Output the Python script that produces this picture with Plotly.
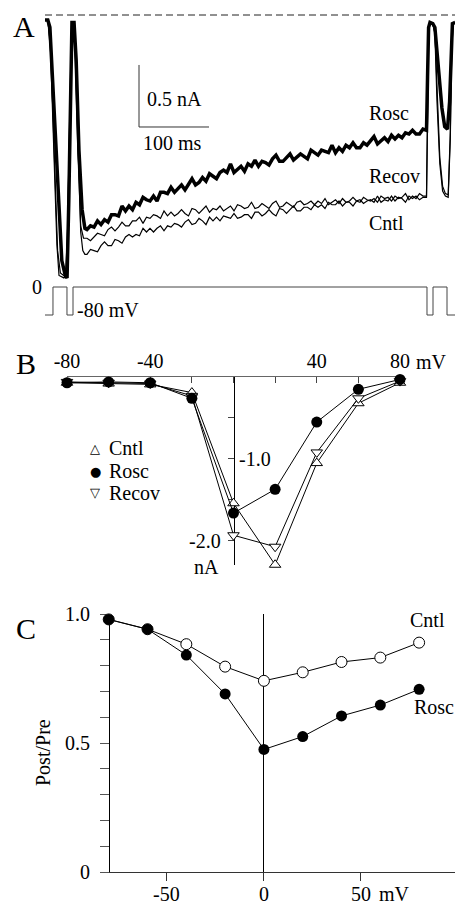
import plotly.graph_objects as go

W, H = 455, 907
FONT = "Liberation Serif"

# ---------------- Panel A data (time in ms, current in nA) ----------------
T_SWEEP = list(range(60, 541, 5))
ROSC_SWEEP = [-1.73, -1.70, -1.71, -1.66, -1.69, -1.65, -1.67, -1.61, -1.61, -1.62,
              -1.54, -1.58, -1.54, -1.57, -1.51, -1.53, -1.47, -1.49, -1.50, -1.46,
              -1.50, -1.43, -1.43, -1.44, -1.39, -1.43, -1.40, -1.37, -1.41, -1.36,
              -1.32, -1.37, -1.35, -1.31, -1.34, -1.28, -1.30, -1.32, -1.27, -1.25,
              -1.27, -1.20, -1.27, -1.24, -1.22, -1.26, -1.20, -1.22, -1.17, -1.22,
              -1.18, -1.19, -1.21, -1.16, -1.13, -1.18, -1.18, -1.15, -1.12, -1.17,
              -1.14, -1.12, -1.14, -1.16, -1.09, -1.11, -1.13, -1.09, -1.10, -1.11,
              -1.05, -1.11, -1.07, -1.10, -1.05, -1.07, -1.03, -1.07, -1.07, -1.03,
              -1.05, -1.02, -0.98, -1.04, -1.01, -0.99, -1.02, -0.97, -1.00, -0.97,
              -0.99, -0.95, -0.96, -0.93, -0.96, -0.96, -0.92]
RECOV_SWEEP = [-1.80, -1.82, -1.79, -1.76, -1.77, -1.78, -1.73, -1.71, -1.74, -1.71,
               -1.67, -1.70, -1.70, -1.66, -1.66, -1.63, -1.68, -1.63, -1.64, -1.61,
               -1.62, -1.64, -1.58, -1.62, -1.59, -1.62, -1.60, -1.57, -1.60, -1.62,
               -1.56, -1.57, -1.60, -1.57, -1.54, -1.59, -1.56, -1.57, -1.54, -1.58,
               -1.56, -1.54, -1.58, -1.53, -1.54, -1.56, -1.55, -1.51, -1.56, -1.55,
               -1.52, -1.54, -1.56, -1.52, -1.50, -1.55, -1.54, -1.51, -1.53, -1.55,
               -1.51, -1.50, -1.53, -1.52, -1.50, -1.53, -1.50, -1.52, -1.48, -1.53,
               -1.51, -1.49, -1.52, -1.48, -1.51, -1.50, -1.47, -1.50, -1.51, -1.47,
               -1.49, -1.50, -1.48, -1.51, -1.46, -1.48, -1.47, -1.50, -1.46, -1.48,
               -1.47, -1.44, -1.49, -1.46, -1.48, -1.44, -1.46]
CNTL_SWEEP = [-1.93, -1.89, -1.90, -1.91, -1.86, -1.83, -1.86, -1.86, -1.81, -1.82,
              -1.84, -1.79, -1.77, -1.79, -1.77, -1.78, -1.72, -1.75, -1.72, -1.75,
              -1.72, -1.70, -1.74, -1.70, -1.71, -1.68, -1.69, -1.71, -1.67, -1.65,
              -1.69, -1.68, -1.64, -1.66, -1.69, -1.63, -1.66, -1.63, -1.66, -1.62,
              -1.63, -1.64, -1.60, -1.64, -1.63, -1.61, -1.61, -1.64, -1.59, -1.59,
              -1.62, -1.60, -1.57, -1.60, -1.62, -1.56, -1.57, -1.60, -1.57, -1.54,
              -1.58, -1.58, -1.55, -1.55, -1.57, -1.53, -1.55, -1.53, -1.56, -1.51,
              -1.53, -1.53, -1.50, -1.54, -1.51, -1.51, -1.54, -1.50, -1.49, -1.52,
              -1.50, -1.49, -1.51, -1.46, -1.51, -1.49, -1.50, -1.46, -1.50, -1.47,
              -1.48, -1.51, -1.46, -1.48, -1.46, -1.49, -1.47]

ROSC_START_T = [0, 4, 7, 13, 19, 24, 29, 31.5, 34, 37, 38.5, 41.5, 44.5, 48.5, 53, 57]
ROSC_START_I = [-0.04, -0.04, -0.10, -0.77, -1.55, -1.98, -2.10, -2.12, -1.50, -0.36,
                -0.06, -0.06, -0.36, -1.09, -1.57, -1.72]
ROSC_END_T = [545, 546.5, 548, 550, 554, 557, 562, 567, 571, 575, 578, 580, 582, 586]
ROSC_END_I = [-0.93, -0.50, -0.10, -0.06, -0.07, -0.10, -0.45, -0.75, -0.90, -0.92,
              -0.70, -0.25, -0.07, -0.06]

CNTL_START_T = [0, 4, 8, 13, 17, 20, 27, 31, 33, 36, 38, 40, 43, 47, 51, 54, 57]
CNTL_START_I = [-0.04, -0.04, -0.30, -1.20, -1.85, -2.10, -2.12, -2.10, -1.60, -0.60,
                -0.08, -0.05, -0.25, -1.00, -1.75, -1.90, -1.93]
CNTL_END_T = [545, 546.5, 548, 550, 554, 557, 560, 564, 568, 572, 576, 579, 581, 583, 586]
CNTL_END_I = [-1.47, -0.80, -0.12, -0.06, -0.07, -0.15, -0.70, -1.20, -1.42, -1.46,
              -1.47, -1.00, -0.30, -0.07, -0.06]

RECOV_START_T = [0, 4, 8, 13, 18, 22, 29, 32, 35, 38, 40, 43, 47, 51, 55]
RECOV_START_I = [-0.04, -0.04, -0.25, -1.10, -1.90, -2.08, -2.11, -1.80, -0.90, -0.10,
                 -0.05, -0.30, -1.10, -1.70, -1.80]
RECOV_END_T = [545, 546.5, 548, 550, 554, 557, 560, 564, 568, 572, 576, 579, 581, 583, 586]
RECOV_END_I = [-1.46, -0.85, -0.12, -0.06, -0.07, -0.14, -0.65, -1.15, -1.38, -1.44,
               -1.45, -0.95, -0.28, -0.07, -0.06]

PROTO_T = [0, 11.4, 31.4, 40, 545.7, 554.3, 574.3, 586]
PROTO_V = [-80, 0, -80, 0, -80, 0, -80, -80]

SCALE_T0, SCALE_I0 = 134.3, -0.903
SCALE_T_LEN, SCALE_I_LEN = 100, 0.5

# ---------------- Panel B data (mV, nA) ----------------
V_B = [-80, -60, -40, -20, 0, 20, 40, 60, 80]
CNTL_B = [-0.07, -0.08, -0.09, -0.19, -1.54, -2.29, -1.05, -0.32, -0.07]
ROSC_B = [-0.07, -0.06, -0.07, -0.26, -1.66, -1.37, -0.55, -0.15, -0.03]
RECOV_B = [-0.06, -0.07, -0.08, -0.23, -1.93, -2.07, -0.92, -0.26, -0.05]
B_TICKS = [-80, -60, -40, -20, 0, 20, 40, 60, 80]
B_TICKTEXT = ["-80", "", "-40", "", "", "", "40", "", "80"]
B_YTICKS = [-0.5, -1.0, -1.5, -2.0]

# ---------------- Panel C data (mV, Post/Pre) ----------------
V_C = [-80, -60, -40, -20, 0, 20, 40, 60, 80]
CNTL_C = [0.979, 0.941, 0.883, 0.796, 0.741, 0.774, 0.814, 0.831, 0.889]
ROSC_C = [0.979, 0.941, 0.841, 0.690, 0.475, 0.525, 0.605, 0.647, 0.708]
C_YTICKS = [0, 0.1, 0.2, 0.3, 0.4, 0.5, 0.6, 0.7, 0.8, 0.9, 1.0]
C_YTICKTEXT = ["0", "", "", "", "", "0.5", "", "", "", "", "1.0"]
C_XTICKS = [-50, 0, 50]
C_XTICKTEXT = ["-50", "0", "50"]


def fx(px):
    return px / W


def fy(py):
    return 1 - py / H


fig = go.Figure()

# ---- Panel A ----
fig.add_trace(go.Scatter(x=[0, 586], y=[0, 0], mode="lines", xaxis="x", yaxis="y",
                         line=dict(color="#222", width=1, dash="7px,4px"), hoverinfo="skip"))
fig.add_trace(go.Scatter(x=CNTL_START_T + T_SWEEP + CNTL_END_T,
                         y=CNTL_START_I + CNTL_SWEEP + CNTL_END_I,
                         mode="lines", xaxis="x", yaxis="y",
                         line=dict(color="black", width=1.2)))
fig.add_trace(go.Scatter(x=RECOV_START_T + T_SWEEP + RECOV_END_T,
                         y=RECOV_START_I + RECOV_SWEEP + RECOV_END_I,
                         mode="lines", xaxis="x", yaxis="y",
                         line=dict(color="black", width=1.2)))
fig.add_trace(go.Scatter(x=ROSC_START_T + T_SWEEP + ROSC_END_T,
                         y=ROSC_START_I + ROSC_SWEEP + ROSC_END_I,
                         mode="lines", xaxis="x", yaxis="y",
                         line=dict(color="black", width=3.5)))
fig.add_trace(go.Scatter(x=[SCALE_T0, SCALE_T0, SCALE_T0 + SCALE_T_LEN],
                         y=[SCALE_I0 + SCALE_I_LEN, SCALE_I0, SCALE_I0],
                         mode="lines", xaxis="x", yaxis="y",
                         line=dict(color="#333", width=1)))
fig.add_trace(go.Scatter(x=PROTO_T, y=PROTO_V, mode="lines", xaxis="x", yaxis="y5",
                         line=dict(color="#444", width=1, shape="hv")))

# ---- Panel B ----
fig.add_trace(go.Scatter(x=V_B, y=CNTL_B, mode="lines+markers", xaxis="x2", yaxis="y2",
                         cliponaxis=False,
                         line=dict(color="black", width=1),
                         marker=dict(symbol="triangle-up", size=10, color="white",
                                     line=dict(color="black", width=1))))
fig.add_trace(go.Scatter(x=V_B, y=RECOV_B, mode="lines+markers", xaxis="x2", yaxis="y2",
                         cliponaxis=False,
                         line=dict(color="black", width=1),
                         marker=dict(symbol="triangle-down", size=10, color="white",
                                     line=dict(color="black", width=1))))
fig.add_trace(go.Scatter(x=V_B, y=ROSC_B, mode="lines+markers", xaxis="x2", yaxis="y2",
                         cliponaxis=False,
                         line=dict(color="black", width=1),
                         marker=dict(symbol="circle", size=11, color="black")))

# ---- Panel C ----
fig.add_trace(go.Scatter(x=V_C, y=CNTL_C, mode="lines+markers", xaxis="x3", yaxis="y3",
                         cliponaxis=False,
                         line=dict(color="black", width=1),
                         marker=dict(symbol="circle", size=11, color="white",
                                     line=dict(color="black", width=1))))
fig.add_trace(go.Scatter(x=V_C, y=ROSC_C, mode="lines+markers", xaxis="x3", yaxis="y3",
                         cliponaxis=False,
                         line=dict(color="black", width=1),
                         marker=dict(symbol="circle", size=11, color="black")))

tickfont = dict(family=FONT, size=20, color="black")

fig.update_layout(
    width=W, height=H,
    margin=dict(l=0, r=0, t=0, b=0, pad=0, autoexpand=False),
    paper_bgcolor="white", plot_bgcolor="rgba(0,0,0,0)",
    showlegend=False,
    font=dict(family=FONT, size=20, color="black"),
    xaxis=dict(domain=[0, 1], range=[-64.29, 585.71], visible=False, anchor="y",
               automargin=False),
    yaxis=dict(domain=[fy(330), 1], range=[-2.540, 0.121], visible=False, anchor="x",
               automargin=False),
    yaxis5=dict(overlaying="y", range=[-122.86, 820], visible=False, anchor="x",
                automargin=False),
    xaxis2=dict(domain=[fx(67), fx(400)], range=[-80, 80], anchor="y2", side="top",
                showline=True, linecolor="#666", linewidth=1,
                ticks="inside", ticklen=6, tickcolor="#444",
                tickvals=B_TICKS, ticktext=B_TICKTEXT, tickfont=tickfont,
                showgrid=False, zeroline=False, layer="below traces", automargin=False),
    yaxis2=dict(domain=[fy(565), fy(377)], range=[-2.293, 0], anchor="free",
                position=fx(234), showline=True, linecolor="black", linewidth=1,
                ticks="outside", ticklen=6, tickcolor="#444",
                tickvals=B_YTICKS, showticklabels=False,
                showgrid=False, zeroline=False, layer="below traces", automargin=False),
    xaxis3=dict(domain=[fx(100), 1], range=[-84.5, 98.5], anchor="y3",
                showline=True, linecolor="#333", linewidth=1,
                ticks="outside", ticklen=8, tickcolor="#333",
                tickvals=C_XTICKS, showticklabels=False,
                showgrid=False, zeroline=True, zerolinecolor="black", zerolinewidth=1,
                layer="below traces", automargin=False),
    yaxis3=dict(domain=[fy(872), fy(614)], range=[0, 1], anchor="free",
                position=fx(109), showline=True, linecolor="black", linewidth=1,
                ticks="outside", ticklen=9, tickcolor="#555",
                tickvals=C_YTICKS, ticktext=C_YTICKTEXT, tickfont=tickfont,
                ticklabelstandoff=6,
                showgrid=False, zeroline=False, layer="below traces", automargin=False),
)

ann = []


def A(text, x, y, xref="paper", yref="paper", size=20, xanchor="center",
      yanchor="middle", family=FONT, **kw):
    ann.append(dict(text=text, x=x, y=y, xref=xref, yref=yref, showarrow=False,
                    xanchor=xanchor, yanchor=yanchor,
                    font=dict(family=family, size=size, color="black"), **kw))


# Panel A labels
A("A", fx(24), fy(27), size=30)
A("0.5 nA", 142.9, -0.677, xref="x", yref="y", xanchor="left")
A("100 ms", 182.1, -1.032, xref="x", yref="y")
A("Rosc", 460, -0.790, xref="x", yref="y", xanchor="left")
A("Recov", 460, -1.298, xref="x", yref="y", xanchor="left")
A("Cntl", 460, -1.677, xref="x", yref="y", xanchor="left")
A("0", -1.5, 0, xref="x", yref="y5", xanchor="right")
A("-80 mV", 42.9, -80, xref="x", yref="y5", xanchor="left", yshift=5)

# Panel B labels
A("B", fx(26), fy(364), size=30)
A("mV", 80, fy(362), xref="x2", xanchor="left", xshift=14)
A("-1.0", 0, -1.0, xref="x2", yref="y2", xanchor="left", xshift=3)
A("-2.0", 0, -2.0, xref="x2", yref="y2", xanchor="right", xshift=-11)
A("nA", 0, -2.0, xref="x2", yref="y2", xshift=-27, yshift=-26)
A("\u25B3", fx(95), fy(448), size=13, family="DejaVu Sans")
A("\u25CF", fx(95), fy(471), size=13, family="DejaVu Sans")
A("\u25BD", fx(95), fy(493), size=13, family="DejaVu Sans")
A("Cntl", fx(107), fy(448), xanchor="left")
A("Rosc", fx(107), fy(471), xanchor="left")
A("Recov", fx(107), fy(493), xanchor="left")

# Panel C labels
A("C", fx(26), fy(628), size=30)
A("Post/Pre", fx(43), fy(753), textangle=-90)
for tv, tt in zip(C_XTICKS, C_XTICKTEXT):
    A(tt, tv, fy(894), xref="x3")
A("mV", 50, fy(894), xref="x3", xanchor="left", xshift=16)
A("Cntl", 74.2, 0.977, xref="x3", yref="y3", xanchor="left")
A("Rosc", 76.3, 0.640, xref="x3", yref="y3", xanchor="left")

fig.update_layout(annotations=ann)

fig.write_html("out.html")
